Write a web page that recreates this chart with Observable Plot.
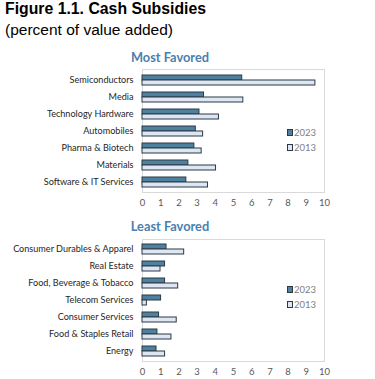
<!DOCTYPE html>
<html>
<head>
<meta charset="utf-8">
<script src="https://cdn.jsdelivr.net/npm/d3@7"></script>
<script src="https://cdn.jsdelivr.net/npm/@observablehq/plot@0.6"></script>
<style>
  html, body { margin: 0; padding: 0; background: #fff; }
  body { width: 375px; height: 379px; position: relative; overflow: hidden; font-family: "Liberation Sans", Arial, sans-serif; }
  .title { position: absolute; left: 5px; top: 0px; font-size: 15.8px; font-weight: bold; color: #000; line-height: 18px; }
  .subtitle { position: absolute; left: 5px; top: 21px; font-size: 15.5px; color: #000; line-height: 18px; }
  .ptitle { position: absolute; width: 160px; left: 90px; text-align: center; font-family: Lato, "Open Sans", sans-serif; font-weight: bold; font-size: 12.8px; color: #4a7fae; line-height: 16px; }
  .panel { position: absolute; left: 0; }
  .legend { position: absolute; left: 287px; font-family: Lato, sans-serif; font-size: 9.5px; color: #808080; }
  .legend div { height: 15px; line-height: 10px; display: flex; align-items: center; }
  .legend span.sw { display: inline-block; width: 4px; height: 5px; border: 1px solid #2b3a44; margin-right: 1px; }
</style>
</head>
<body>
<div class="title">Figure 1.1. Cash Subsidies</div>
<div class="subtitle">(percent of value added)</div>
<div class="ptitle" style="top:49px">Most Favored</div>
<div class="ptitle" style="top:218px">Least Favored</div>
<div id="p1" class="panel" style="top:45px"></div>
<div id="p2" class="panel" style="top:215px"></div>
<div id="l1" class="legend" style="top:125px"></div>
<div id="l2" class="legend" style="top:282px"></div>
<script>
const years = ["2023", "2013"];
const yearColors = ["#4e80a0", "#dde6f2"];
const xTicks = [0, 1, 2, 3, 4, 5, 6, 7, 8, 9, 10];

const mostCategories = ["Semiconductors", "Media", "Technology Hardware", "Automobiles", "Pharma & Biotech", "Materials", "Software & IT Services"];
const most2023 = [5.48, 3.38, 3.13, 2.93, 2.85, 2.52, 2.41];
const most2013 = [9.5, 5.54, 4.2, 3.33, 3.25, 4.04, 3.6];

const leastCategories = ["Consumer Durables & Apparel", "Real Estate", "Food, Beverage & Tobacco", "Telecom Services", "Consumer Services", "Food & Staples Retail", "Energy"];
const least2023 = [1.32, 1.24, 1.24, 1.02, 0.91, 0.82, 0.77];
const least2013 = [2.29, 0.99, 1.96, 0.24, 1.88, 1.59, 1.24];

function panel(cats, v23, v13, height, mb) {
  const d23 = cats.map((c, i) => ({cat: c, v: v23[i]}));
  const d13 = cats.map((c, i) => ({cat: c, v: v13[i]}));
  const half = 5;
  return Plot.plot({
    width: 375,
    height,
    marginLeft: 142,
    marginRight: 51,
    marginTop: 24,
    marginBottom: mb,
    style: {fontFamily: "Lato, 'Open Sans', sans-serif", fontSize: "9.1px", color: "#262626", background: "transparent"},
    x: {domain: [0, 10], ticks: xTicks, tickSize: 0, tickPadding: 7, label: null},
    y: {domain: cats, paddingInner: 0.43, paddingOuter: 0.215, tickSize: 0, tickPadding: 9, label: null},
    marks: [
      Plot.frame({stroke: "#d9d9d9"}),
      Plot.barX(d23, {x: "v", y: "cat", fill: yearColors[0], stroke: "#2b3a44", strokeWidth: 1, insetBottom: half}),
      Plot.barX(d13, {x: "v", y: "cat", fill: yearColors[1], stroke: "#2b3a44", strokeWidth: 1, insetTop: half})
    ]
  });
}

const p1 = panel(mostCategories, most2023, most2013, 167, 20);
const p2 = panel(leastCategories, least2023, least2013, 164, 18);
for (const p of [p1, p2]) {
  p.querySelectorAll("g[aria-label='x-axis tick label']").forEach(e => { e.setAttribute("fill", "#595959"); e.setAttribute("font-size", "9.5px"); });
}
document.getElementById("p1").appendChild(p1);
document.getElementById("p2").appendChild(p2);

for (const id of ["l1", "l2"]) {
  const el = document.getElementById(id);
  years.forEach((y, i) => {
    const row = document.createElement("div");
    const sw = document.createElement("span");
    sw.className = "sw";
    sw.style.background = yearColors[i];
    row.appendChild(sw);
    row.appendChild(document.createTextNode(y));
    el.appendChild(row);
  });
}
</script>
</body>
</html>
